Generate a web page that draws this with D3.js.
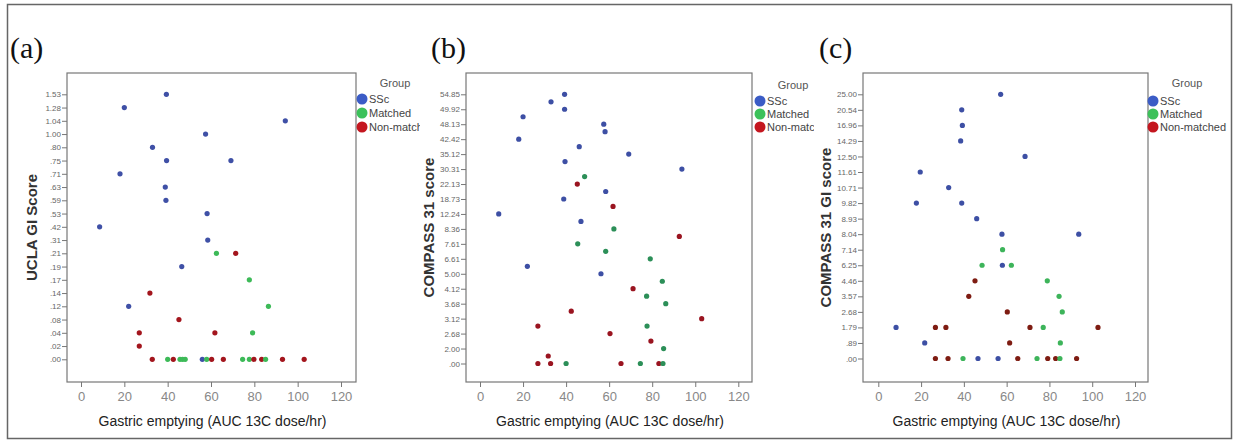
<!DOCTYPE html>
<html>
<head>
<meta charset="utf-8">
<script src="https://cdn.jsdelivr.net/npm/d3@7"></script>
<style>
  body { margin: 0; background: #fff; }
  svg { display: block; font-family: "Liberation Sans", Arial, sans-serif; }
</style>
</head>
<body>
<div id="chart"></div>
<script>
// x axis ticks, same for all three panels
const xTicks = [0, 20, 40, 60, 80, 100, 120];
const groups = ["SSc", "Matched", "Non-matched"];

// y axes are categorical in the original (SPSS), labels listed bottom to top
const yLabelsA = [".00", ".02", ".04", ".08", ".12", ".14", ".17", ".19", ".21", ".31", ".42",
  ".53", ".59", ".63", ".71", ".75", ".80", "1.00", "1.04", "1.28", "1.53"];
// panel b has 37 categories, only every second one is labelled
const yLabelsB = [".00", "2.00", "2.68", "3.12", "3.68", "4.12", "5.00", "6.61", "7.61", "8.36",
  "12.24", "18.73", "22.13", "30.31", "35.12", "42.42", "48.13", "49.92", "54.85"];
const yLabelsC = [".00", ".89", "1.79", "2.68", "3.57", "4.46", "6.25", "7.14", "8.04", "8.93",
  "9.82", "10.71", "11.61", "12.50", "14.29", "16.96", "20.54", "25.00"];

// points: [gastric emptying, category rank from bottom, group index]
const pointsA = [
  [39.4, 20, 0], [20, 19, 0], [94.3, 18, 0], [57.5, 17, 0], [33, 16, 0], [39.5, 15, 0], [69.2, 15, 0],
  [18, 14, 0], [38.9, 13, 0], [39.2, 12, 0], [58.2, 11, 0], [8.6, 10, 0], [58.5, 9, 0],
  [62.5, 8, 1], [71.4, 8, 2], [46.5, 7, 0], [77.7, 6, 1], [31.8, 5, 2], [22, 4, 0], [86.5, 4, 1],
  [45.2, 3, 2], [26.9, 2, 2], [61.8, 2, 2], [79.2, 2, 1], [26.9, 1, 2],
  [32.9, 0, 2], [40, 0, 1], [42.6, 0, 2], [45.7, 0, 1], [46.9, 0, 1], [48.1, 0, 1], [56, 0, 0],
  [58, 0, 1], [60.3, 0, 2], [65.7, 0, 2], [74.6, 0, 1], [77.7, 0, 1], [79.8, 0, 2], [83.4, 0, 2],
  [85.2, 0, 1], [93, 0, 2], [103, 0, 2]
];
const pointsB = [
  [39.3, 36, 0], [33, 35, 0], [39.3, 34, 0], [20, 33, 0], [57.5, 32, 0], [58.1, 31, 0], [18, 30, 0],
  [46.1, 29, 0], [69.1, 28, 0], [39.5, 27, 0], [93.8, 26, 0], [48.6, 25, 1], [45.2, 24, 2],
  [58.4, 23, 0], [38.9, 22, 0], [61.8, 21, 2], [8.7, 20, 0], [46.9, 19, 0], [62.2, 18, 1],
  [92.6, 17, 2], [45.4, 16, 1], [58.4, 15, 1], [79.1, 14, 1], [22, 13, 0], [56.2, 12, 0],
  [84.7, 11, 1], [71.1, 10, 2], [77.4, 9, 1], [86.3, 8, 1], [42.4, 7, 2], [103, 6, 2],
  [26.9, 5, 2], [77.6, 5, 1], [60.4, 4, 2], [79.4, 3, 2], [85.3, 2, 1], [31.7, 1, 2],
  [26.9, 0, 2], [32.8, 0, 2], [40, 0, 1], [65.5, 0, 2], [74.5, 0, 1], [83.1, 0, 2], [85, 0, 1]
];
const pointsC = [
  [57.2, 17, 0], [39, 16, 0], [39.3, 15, 0], [38.5, 14, 0], [68.6, 13, 0], [19.6, 12, 0],
  [32.9, 11, 0], [17.8, 10, 0], [39, 10, 0], [46, 9, 0], [57.8, 8, 0], [93.7, 8, 0],
  [58.1, 7, 1], [48.5, 6, 1], [58, 6, 0], [62.2, 6, 1], [45.2, 5, 2], [79, 5, 1],
  [42.3, 4, 2], [84.5, 4, 1], [60.3, 3, 2], [86, 3, 1],
  [8.3, 2, 0], [26.7, 2, 2], [31.6, 2, 2], [70.9, 2, 2], [77.1, 2, 1], [102.7, 2, 2],
  [21.7, 1, 0], [61.4, 1, 2], [85.1, 1, 1],
  [26.7, 0, 2], [32.6, 0, 2], [39.6, 0, 1], [46.6, 0, 0], [56, 0, 0], [65.2, 0, 2],
  [74.2, 0, 1], [79.2, 0, 2], [82.9, 0, 2], [84.9, 0, 1], [92.7, 0, 2]
];

const W = 1237, H = 443;
const svg = d3.select("#chart").append("svg").attr("width", W).attr("height", H);

// outer border of the figure
svg.append("rect")
  .attr("x", 7.5).attr("y", 4.5).attr("width", 1224).attr("height", 434)
  .attr("fill", "none").attr("stroke", "#666").attr("stroke-width", 1.5);

const legendColors = ["#3b5cc6", "#3cc15a", "#c4161f"];

const panels = [
  { tag: "(a)", tagX: 10, points: pointsA, labels: yLabelsA, step: 1, levels: 21,
    frame: [67, 356], xr: [81, 341], yr: [359.3, 94.3], title: "UCLA GI Score", titleX: 33,
    colors: ["#3f50a6", "#3dba58", "#a3151d"], legX: 362, legY: [99, 113, 127], groupX: 395, groupY: 83, clip: 420 },
  { tag: "(b)", tagX: 431, points: pointsB, labels: yLabelsB, step: 2, levels: 37,
    frame: [466, 752], xr: [480, 738.3], yr: [363.5, 94.3], title: "COMPASS 31 score", titleX: 430,
    colors: ["#3d4fa4", "#2c8f58", "#9a1420"], legX: 760, legY: [101, 114, 127], groupX: 793, groupY: 85, clip: 814 },
  { tag: "(c)", tagX: 819, points: pointsC, labels: yLabelsC, step: 1, levels: 18,
    frame: [863, 1148], xr: [878.3, 1135], yr: [358.5, 94.3], title: "COMPASS 31 GI score", titleX: 827,
    colors: ["#3d4fa4", "#3db45a", "#7e1c12"], legX: 1153, legY: [101, 114, 127], groupX: 1187, groupY: 83, clip: 1237 }
];

const plotTop = 73, plotBottom = 382;

panels.forEach((p, i) => {
  const g = svg.append("g");

  const xScale = d3.scaleLinear().domain([0, 120]).range(p.xr);
  const yScale = d3.scaleLinear().domain([0, p.levels - 1]).range(p.yr);

  // panel letter
  g.append("text")
    .attr("x", p.tagX).attr("y", 58)
    .attr("font-family", "Liberation Serif, Times New Roman, serif")
    .attr("font-size", 30).attr("fill", "#111")
    .text(p.tag);

  // plot frame
  g.append("rect")
    .attr("x", p.frame[0]).attr("y", plotTop)
    .attr("width", p.frame[1] - p.frame[0]).attr("height", plotBottom - plotTop)
    .attr("fill", "none").attr("stroke", "#777").attr("stroke-width", 1.2);

  // y axis, categorical labels
  const yAxis = d3.axisLeft(yScale)
    .tickValues(p.labels.map((d, k) => k * p.step))
    .tickFormat(v => p.labels[v / p.step])
    .tickSize(5).tickPadding(1);
  const ya = g.append("g").attr("transform", `translate(${p.frame[0]},0)`).call(yAxis);
  ya.select(".domain").remove();
  ya.selectAll("line").attr("stroke", "#777");
  ya.selectAll("text").attr("font-size", 8).attr("fill", "#666")
    .attr("font-family", "Liberation Sans Narrow, Liberation Sans, Arial, sans-serif");

  // x axis
  const xAxis = d3.axisBottom(xScale).tickValues(xTicks).tickSize(5).tickPadding(5);
  const xa = g.append("g").attr("transform", `translate(0,${plotBottom})`).call(xAxis);
  xa.select(".domain").remove();
  xa.selectAll("line").attr("stroke", "#777");
  xa.selectAll("text").attr("font-size", 13).attr("fill", "#888");

  // axis titles
  g.append("text")
    .attr("x", (p.frame[0] + p.frame[1]) / 2 + 1).attr("y", 426)
    .attr("text-anchor", "middle").attr("font-size", 14).attr("fill", "#222")
    .text("Gastric emptying (AUC 13C dose/hr)");
  g.append("text")
    .attr("transform", `translate(${p.titleX},${(plotTop + plotBottom) / 2}) rotate(-90)`)
    .attr("text-anchor", "middle").attr("dominant-baseline", "middle")
    .attr("font-size", 15).attr("font-weight", "bold").attr("fill", "#333")
    .text(p.title);

  // points
  g.selectAll("circle.pt")
    .data(p.points)
    .join("circle")
    .attr("class", "pt")
    .attr("cx", d => xScale(d[0]))
    .attr("cy", d => yScale(d[1]))
    .attr("r", 2.6)
    .attr("fill", d => p.colors[d[2]]);

  // legend, clipped like the original where the panel runs out
  svg.append("clipPath").attr("id", "clip" + i)
    .append("rect").attr("x", p.legX - 8).attr("y", 60).attr("width", p.clip - p.legX + 8).attr("height", 90);
  const lg = g.append("g").attr("clip-path", `url(#clip${i})`);
  lg.append("text")
    .attr("x", p.groupX).attr("y", p.groupY + 4)
    .attr("text-anchor", "middle").attr("font-size", 11).attr("fill", "#555")
    .text("Group");
  groups.forEach((name, k) => {
    lg.append("circle")
      .attr("cx", p.legX).attr("cy", p.legY[k]).attr("r", 5.5)
      .attr("fill", legendColors[k]);
    lg.append("text")
      .attr("x", p.legX + 7).attr("y", p.legY[k] + 4)
      .attr("font-size", 11).attr("fill", "#444")
      .text(name);
  });
});
</script>
</body>
</html>
